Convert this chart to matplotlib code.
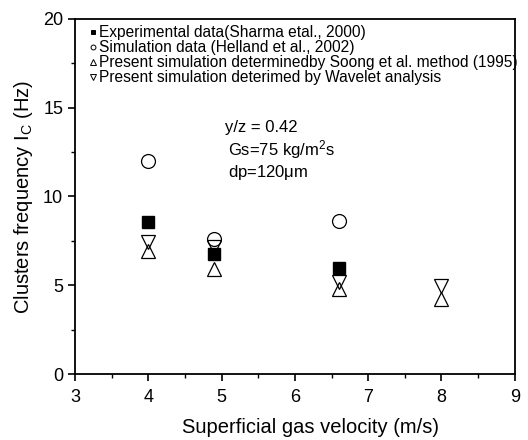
import matplotlib
matplotlib.use("Agg")
import matplotlib.pyplot as plt
from matplotlib.ticker import MultipleLocator

plt.rcParams['font.family'] = ['Liberation Sans', 'DejaVu Sans']
plt.rcParams['mathtext.fontset'] = 'custom'
plt.rcParams['mathtext.rm'] = 'Liberation Sans'
plt.rcParams['mathtext.it'] = 'Liberation Sans'

# data
exp_x = [4.0, 4.9, 6.6]
exp_y = [8.56, 6.75, 5.98]
helland_x = [4.0, 4.9, 6.6]
helland_y = [11.97, 7.63, 8.64]
soong_x = [4.0, 4.9, 6.6, 8.0]
soong_y = [6.95, 5.92, 4.8, 4.24]
wavelet_x = [4.0, 4.9, 6.6, 8.0]
wavelet_y = [7.45, 7.15, 5.2, 4.98]

labels = ['Experimental data(Sharma etal., 2000)',
          'Simulation data (Helland et al., 2002)',
          'Present simulation determinedby Soong et al. method (1995)',
          'Present simulation deterimed by Wavelet analysis']

fig = plt.figure(figsize=(5.28, 4.4), dpi=100)
ax = fig.add_axes([0.142, 0.15, 0.833, 0.807])

ax.plot(exp_x, exp_y, 's', ms=9, mfc='black', mec='black', label=labels[0])
ax.plot(helland_x, helland_y, 'o', ms=10, mfc='white', mec='black', mew=0.9, label=labels[1])
ax.plot(soong_x, soong_y, '^', ms=10.5, mfc='white', mec='black', mew=0.9, label=labels[2])
ax.plot(wavelet_x, wavelet_y, 'v', ms=10.5, mfc='none', mec='black', mew=0.9, label=labels[3])

ax.set_xlim(3, 9)
ax.set_ylim(0, 20)
ax.xaxis.set_major_locator(MultipleLocator(1))
ax.xaxis.set_minor_locator(MultipleLocator(0.5))
ax.yaxis.set_major_locator(MultipleLocator(5))
ax.yaxis.set_minor_locator(MultipleLocator(2.5))
ax.tick_params(which='major', direction='out', length=5, width=1.2, labelsize=13)
ax.tick_params(axis='x', which='major', pad=6)
ax.tick_params(which='minor', direction='out', length=3, width=1.0)
for s in ax.spines.values():
    s.set_linewidth(1.3)

ax.set_xlabel('Superficial gas velocity (m/s)', fontsize=14.5)
ax.xaxis.set_label_coords(0.535, -0.125, transform=ax.transAxes)
ax.xaxis.label.set_va('top')
ax.set_ylabel(r'Clusters frequency I$_\mathrm{C}$ (Hz)', fontsize=14.5, labelpad=6)

leg = ax.legend(loc='upper left', frameon=False, fontsize=11.2, markerscale=0.35,
                handlelength=0.5, handletextpad=0.15, labelspacing=0.0,
                borderpad=0.2, borderaxespad=0.0, bbox_to_anchor=(0.025, 0.9915))
for h in leg.legend_handles:
    h.set_markeredgewidth(0.7)

ax.text(0.341, 0.693, 'y/z = 0.42', transform=ax.transAxes, fontsize=12, va='center')
ax.text(0.348, 0.631, r'Gs=75 kg/m$^2$s', transform=ax.transAxes, fontsize=12, va='center')
ax.text(0.348, 0.567, r'dp=120$\mathrm{\mu}$m', transform=ax.transAxes, fontsize=12, va='center')

fig.savefig('out.png', dpi=100)
